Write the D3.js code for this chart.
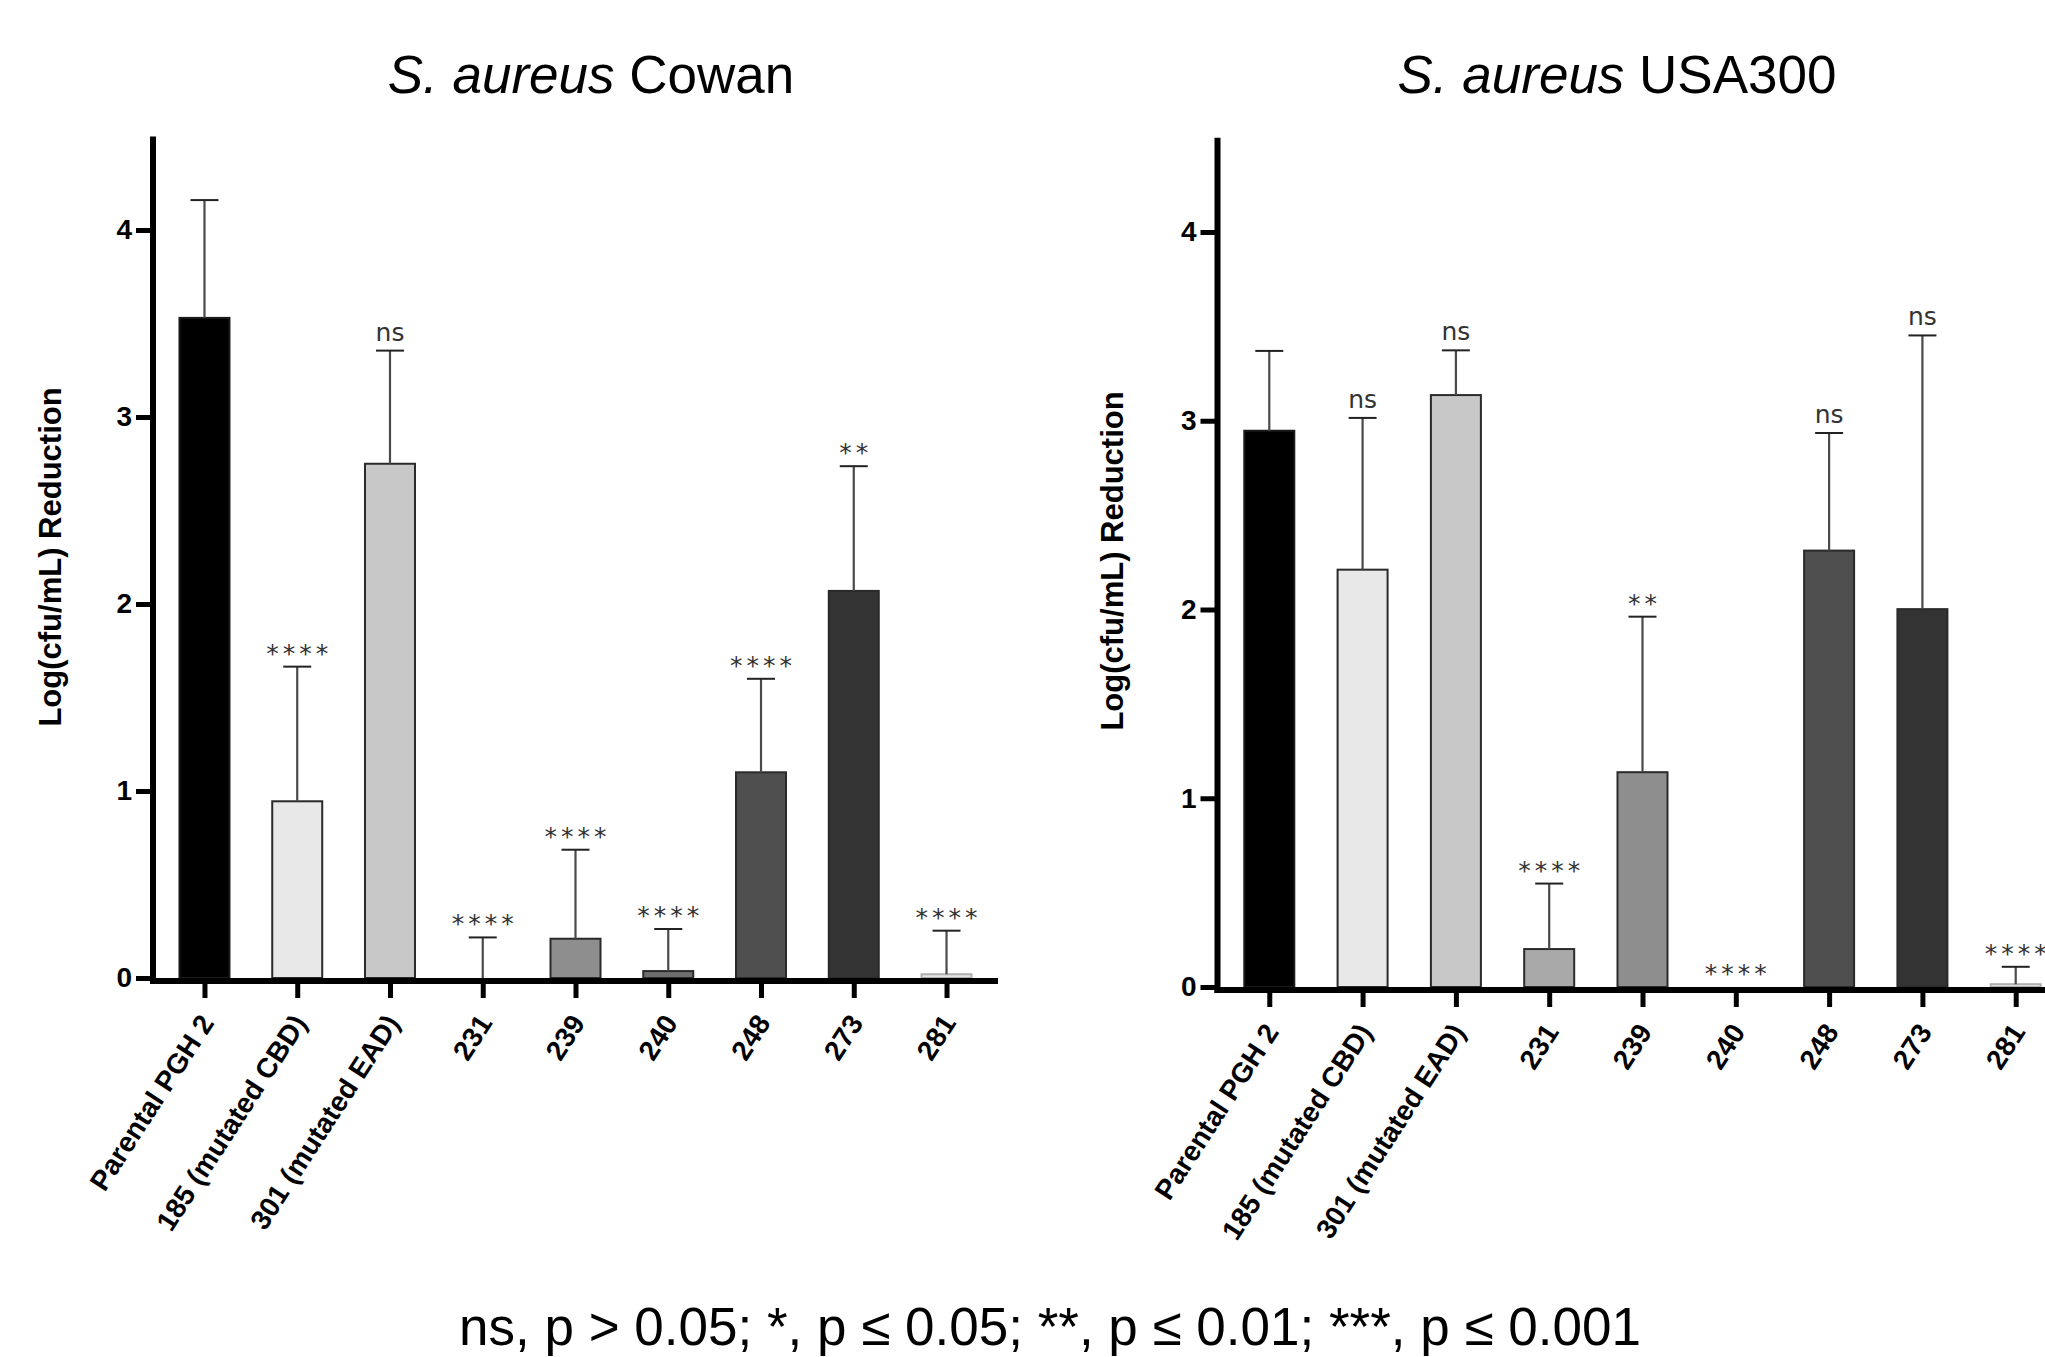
<!DOCTYPE html>
<html><head><meta charset="utf-8">
<script src="https://cdn.jsdelivr.net/npm/d3@7"></script>
<style>body{margin:0;background:#fff;overflow:hidden}</style>
</head><body>
<svg id="c" width="2045" height="1357"></svg>
<script>
// ---- data ----
const categories = ["Parental PGH 2","185 (mutated CBD)","301 (mutated EAD)","231","239","240","248","273","281"];
const cowanMean = [3.53, 0.945, 2.75, 0, 0.21, 0.037, 1.10, 2.07, 0.02];
const cowanSD   = [0.63, 0.72, 0.605, 0.217, 0.476, 0.225, 0.50, 0.667, 0.233];
const cowanSig  = ["", "****", "ns", "****", "****", "****", "****", "**", "****"];
const usaMean   = [2.947, 2.211, 3.136, 0.201, 1.138, 0, 2.312, 2.002, 0.015];
const usaSD     = [0.423, 0.804, 0.237, 0.347, 0.824, 0, 0.623, 1.45, 0.092];
const usaSig    = ["", "ns", "ns", "****", "**", "****", "ns", "ns", "****"];
const yTicks = [0, 1, 2, 3, 4];
const yMax = 4.5;
const barFills   = ["#000000","#e8e8e8","#c8c8c8","#a9a9a9","#8e8e8e","#6e6e6e","#4f4f4f","#333333","#e6e6e6"];
const barStrokes = ["#1a1a1a","#2a2a2a","#2a2a2a","#2a2a2a","#2a2a2a","#2a2a2a","#2a2a2a","#2a2a2a","#b0b0b0"];
const footnote = "ns, p > 0.05; *, p ≤ 0.05; **, p ≤ 0.01; ***, p ≤ 0.001";

const svg = d3.select("#c");
svg.append("rect").attr("width", 2045).attr("height", 1357).attr("fill", "#fff");

const SANS = "'Liberation Sans', Arial, sans-serif";
const SIGF = "'DejaVu Sans', Verdana, sans-serif";

function panel(cfg) {
  const g = svg.append("g");
  const y = d3.scaleLinear().domain([0, yMax]).range([cfg.y0, cfg.y0 - yMax * cfg.unit]);
  const x = d3.scalePoint().domain(categories).range([cfg.axisX, cfg.axisX + cfg.len]).padding(0.555);
  const bw = 50;

  // bars
  categories.forEach((c, i) => {
    const v = cfg.mean[i];
    if (v > 0) {
      g.append("rect")
        .attr("x", x(c) - bw / 2).attr("y", y(v))
        .attr("width", bw).attr("height", y(0) - y(v))
        .attr("fill", barFills[i]).attr("stroke", barStrokes[i]).attr("stroke-width", 2);
    }
  });

  // error bars
  categories.forEach((c, i) => {
    const v = cfg.mean[i], s = cfg.sd[i];
    if (s > 0) {
      g.append("line").attr("x1", x(c)).attr("x2", x(c))
        .attr("y1", y(v)).attr("y2", y(v + s))
        .attr("stroke", "#4a4a4a").attr("stroke-width", 2.2);
      g.append("line").attr("x1", x(c) - 14).attr("x2", x(c) + 14)
        .attr("y1", y(v + s)).attr("y2", y(v + s))
        .attr("stroke", "#222").attr("stroke-width", 2);
    }
  });

  // significance labels
  categories.forEach((c, i) => {
    const lab = cfg.sig[i];
    if (!lab) return;
    const top = y(cfg.mean[i] + cfg.sd[i]);
    const isNs = lab === "ns";
    g.append("text")
      .attr("x", x(c)).attr("y", top - (isNs ? 10 : 5))
      .attr("dx", isNs ? 0 : 2)
      .attr("text-anchor", "middle")
      .style("font-family", SIGF).style("font-size", "25px")
      .style("letter-spacing", isNs ? "0px" : "4px")
      .attr("fill", "#333").text(lab);
  });

  // y axis ticks and labels
  const ya = g.append("g").attr("transform", `translate(${cfg.axisX},0)`)
    .call(d3.axisLeft(y).tickValues(yTicks).tickFormat(d3.format("d")).tickSize(17).tickPadding(4).tickSizeOuter(0));
  ya.select(".domain").remove();
  ya.selectAll(".tick line").attr("stroke", "#000").attr("stroke-width", 5);
  ya.selectAll(".tick text").attr("fill", "#000")
    .style("font-family", SANS).style("font-size", "28px").style("font-weight", "bold");

  // x axis ticks and labels
  const xa = g.append("g").attr("transform", `translate(0,${cfg.y0})`)
    .call(d3.axisBottom(x).tickSize(20).tickSizeOuter(0));
  xa.select(".domain").remove();
  xa.selectAll(".tick line").attr("stroke", "#000").attr("stroke-width", 5);
  xa.selectAll(".tick text")
    .attr("x", 0).attr("y", 0).attr("dy", 0)
    .attr("transform", "translate(10,45) rotate(-57)")
    .attr("text-anchor", "end").attr("fill", "#000")
    .style("font-family", SANS).style("font-size", "28px").style("font-weight", "bold");

  // axis lines
  g.append("line").attr("x1", cfg.axisX).attr("x2", cfg.axisX)
    .attr("y1", y(yMax)).attr("y2", cfg.y0 + 6)
    .attr("stroke", "#000").attr("stroke-width", 6);
  g.append("line").attr("x1", cfg.axisX - 3).attr("x2", cfg.axisX + cfg.len)
    .attr("y1", cfg.y0 + 3).attr("y2", cfg.y0 + 3)
    .attr("stroke", "#000").attr("stroke-width", 6);

  // y label
  g.append("text")
    .attr("transform", `translate(${cfg.ylabX},${cfg.ylabY}) rotate(-90)`)
    .attr("text-anchor", "middle").attr("dy", "0.35em")
    .style("font-family", SANS).style("font-size", "31px").style("font-weight", "bold")
    .attr("fill", "#000").text("Log(cfu/mL) Reduction");

  // title
  const t = svg.append("text").attr("x", cfg.titleX).attr("y", 93)
    .attr("text-anchor", "middle")
    .style("font-family", SANS).style("font-size", "53px").attr("fill", "#000");
  t.append("tspan").style("font-style", "italic").text("S. aureus");
  t.append("tspan").text(" " + cfg.strain);
}

panel({axisX: 153, y0: 978, unit: 187, len: 845, mean: cowanMean, sd: cowanSD, sig: cowanSig,
       ylabX: 50, ylabY: 557, titleX: 591, strain: "Cowan"});
panel({axisX: 1217.5, y0: 987, unit: 188.75, len: 850, mean: usaMean, sd: usaSD, sig: usaSig,
       ylabX: 1112, ylabY: 561, titleX: 1617, strain: "USA300"});

svg.append("text").attr("x", 1050).attr("y", 1345).attr("text-anchor", "middle")
  .style("font-family", SANS).style("font-size", "53px").attr("fill", "#000").text(footnote);
</script>
</body></html>
